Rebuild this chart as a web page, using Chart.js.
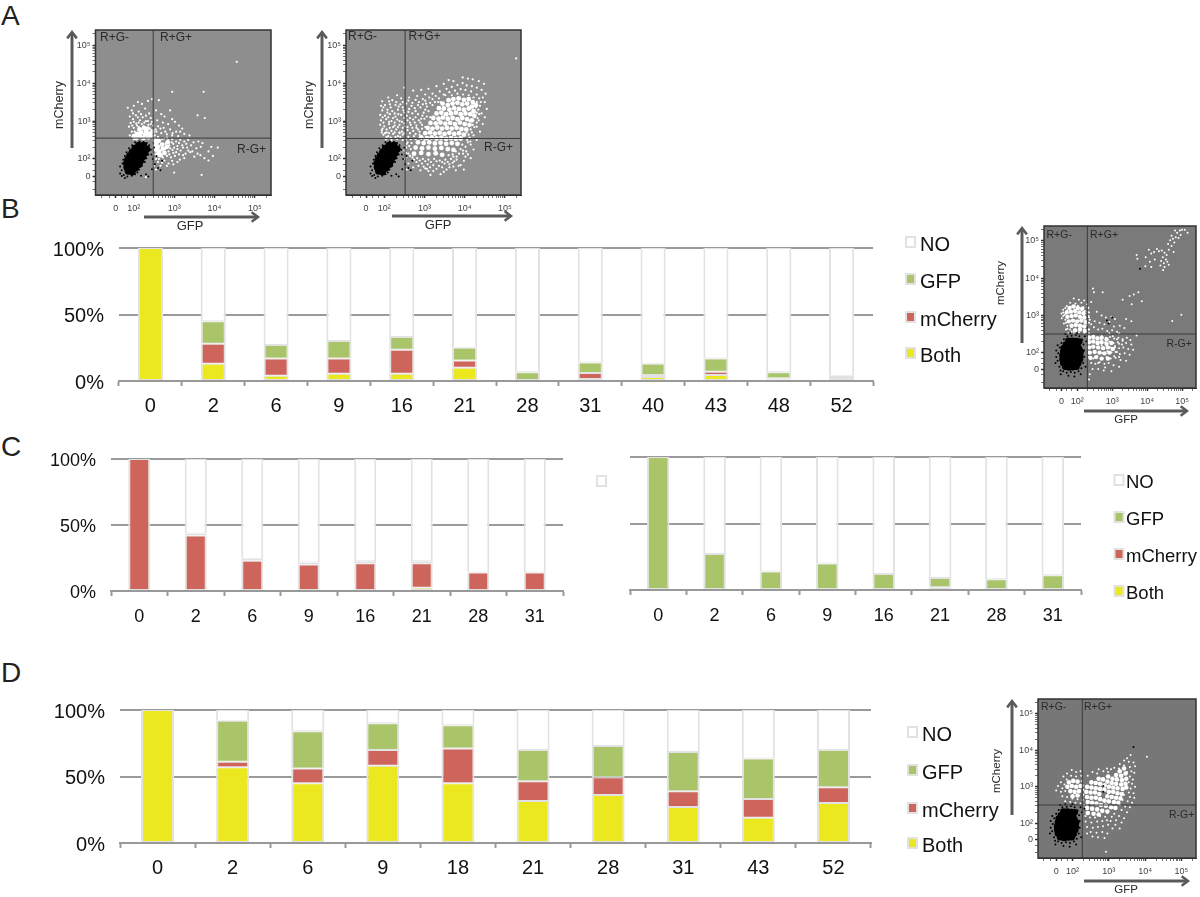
<!DOCTYPE html>
<html>
<head>
<meta charset="utf-8">
<title>Flow panels</title>
<script src="https://cdn.jsdelivr.net/npm/chart.js@4"></script>
<style>
  body { margin: 0; background: #fff; }
  #page { position: relative; width: 1200px; height: 897px; overflow: hidden; }
  canvas { position: absolute; left: 0; top: 0; }
  .letter { position: absolute; left: 1px; font: 28px "Liberation Sans", sans-serif; color: #222; line-height: 28px; }
</style>
</head>
<body>
<div id="page">
  <div class="letter" style="top:2px">A</div>
  <div class="letter" style="top:195px">B</div>
  <div class="letter" style="top:433px">C</div>
  <div class="letter" style="top:659px">D</div>
</div>
<script>
// Bar panels, values in percent
const bDays = ['0', '2', '6', '9', '16', '21', '28', '31', '40', '43', '48', '52'];
const bBoth = [100, 13, 4, 5.5, 5.5, 10, 0, 1.5, 3, 4.5, 1, 1.5];
const bCherry = [0, 15, 13, 11.5, 18, 5.5, 0, 4.5, 1.5, 2.5, 1, 1.5];
const bGfp = [0, 17, 10, 13, 9.5, 9.5, 6.5, 8, 8.5, 10, 4.5, 1];
const bNo = [0, 55, 73, 70, 67, 75, 93.5, 86, 87, 83, 93.5, 96];

const cDays = ['0', '2', '6', '9', '16', '21', '28', '31'];
const cLeftBoth = [0, 0, 0, 0, 0, 2.5, 0, 0];
const cLeftCherry = [100, 42, 23, 20, 21, 18.5, 14, 14];
const cLeftGfp = [0, 1.5, 1.5, 1.5, 1.5, 1.5, 0, 0];
const cLeftNo = [0, 56.5, 75.5, 78.5, 77.5, 77.5, 86, 86];

const cRightBoth = [0, 0, 0, 0, 0, 2, 0, 0];
const cRightCherry = [0, 0, 0, 0, 0, 0, 0, 0];
const cRightGfp = [100, 27, 14, 20, 12, 7, 8, 11];
const cRightNo = [0, 73, 86, 80, 88, 91, 92, 89];

const dDays = ['0', '2', '6', '9', '18', '21', '28', '31', '43', '52'];
const dBoth = [100, 57, 45, 58, 45, 31.5, 36, 27, 19, 30];
const dCherry = [0, 4, 11, 12, 26, 15, 13.5, 12, 14, 12];
const dGfp = [0, 31, 28, 20, 17.5, 23.5, 23.5, 29.5, 30.5, 28];
const dNo = [0, 8, 16, 10, 11.5, 30, 27, 31.5, 36.5, 30];

const legendOrder = ['NO', 'GFP', 'mCherry', 'Both'];

// Flow plots, all coordinates in decades (3 means 10^3), flat x,y lists
const axisMajor = [1.55, 2, 3, 4, 5];
const axisNames = ['0', '10²', '10³', '10⁴', '10⁵'];
const axisMinor = [1.2, 1.4, 1.7, 1.85, 2.3, 2.48, 2.6, 2.7, 2.78, 2.85, 2.9, 2.95, 3.3, 3.48, 3.6, 3.7, 3.78, 3.85, 3.9, 3.95, 4.3, 4.48, 4.6, 4.7, 4.78, 4.85, 4.9, 4.95, 5.3];

const negCoreWide = [1.86,1.68, 1.96,1.66, 1.83,1.78, 1.94,1.78, 2.04,1.76, 1.82,1.88, 1.93,1.88, 2.04,1.87, 2.13,1.86, 1.85,1.98, 1.96,1.98, 2.07,1.97, 2.17,1.96, 1.9,2.08, 2.01,2.08, 2.12,2.07, 2.22,2.06, 1.96,2.18, 2.07,2.18, 2.18,2.17, 2.27,2.16, 2.03,2.28, 2.14,2.28, 2.25,2.27, 2.32,2.26, 2.12,2.36, 2.24,2.36];
const negEdgeWide = [1.66,1.62, 1.7,1.55, 1.75,1.58, 1.84,1.54, 1.95,1.56, 2.03,1.6, 1.7,1.7, 1.66,1.8, 1.72,1.88, 1.74,1.98, 1.78,2.08, 1.82,2.18, 1.88,2.28, 1.96,2.36, 2.03,2.44, 2.14,2.46, 2.24,2.45, 2.32,2.42, 2.38,2.36, 2.42,2.24, 2.36,2.12, 2.31,2.02, 2.27,1.92, 2.2,1.82, 2.13,1.72, 2.09,1.64, 2.44,2.12, 2.47,2.0, 2.52,1.86, 2.6,1.76, 2.66,1.7, 2.45,1.73, 2.3,1.6, 2.18,1.56, 2.36,1.54, 1.78,1.5, 2.5,2.3, 2.56,2.08, 2.7,1.95];

const negCoreTall = [1.66,1.62, 1.77,1.6, 1.88,1.61, 1.98,1.62, 1.6,1.72, 1.71,1.71, 1.82,1.7, 1.93,1.72, 2.03,1.71, 1.58,1.82, 1.69,1.81, 1.8,1.82, 1.91,1.8, 2.02,1.81, 2.08,1.82, 1.58,1.92, 1.69,1.91, 1.8,1.92, 1.91,1.91, 2.02,1.92, 2.09,1.91, 1.6,2.02, 1.71,2.01, 1.82,2.02, 1.93,2.01, 2.04,2.02, 2.1,2.03, 1.62,2.12, 1.73,2.12, 1.84,2.11, 1.95,2.12, 2.05,2.11, 1.68,2.22, 1.79,2.21, 1.9,2.22, 2.01,2.21, 1.75,2.32, 1.86,2.32, 1.97,2.31, 2.06,2.3];
const negEdgeTall = [1.46,1.98, 1.44,1.78, 1.49,1.62, 1.52,1.52, 1.6,1.5, 1.7,1.46, 1.82,1.48, 1.93,1.46, 2.04,1.5, 2.12,1.58, 2.17,1.72, 2.2,1.88, 2.2,2.06, 2.18,2.22, 2.14,2.35, 2.06,2.44, 1.96,2.47, 1.84,2.45, 1.72,2.44, 1.62,2.36, 1.55,2.26, 1.5,2.14, 1.38,1.72, 1.4,1.88, 1.4,2.06, 1.53,1.42, 1.75,1.38, 1.92,1.36, 2.1,1.42, 2.24,1.62, 2.26,2.3, 1.44,2.2, 1.66,2.5, 1.8,2.52, 2.0,2.52, 2.22,2.44];

const a1Core = [2.0,2.6, 2.08,2.66, 2.06,2.55, 2.16,2.6, 2.18,2.7, 2.24,2.55, 2.28,2.64, 2.3,2.74, 2.36,2.57, 2.38,2.67, 2.44,2.6, 2.46,2.72, 2.14,2.78, 2.34,2.8, 2.25,2.82, 2.52,2.5, 2.56,2.42, 2.52,2.34, 2.6,2.32, 2.62,2.48, 2.55,2.25, 2.63,2.2, 2.7,2.38, 2.72,2.27, 2.58,2.12, 2.66,2.1, 2.76,2.16, 2.82,2.32, 2.84,2.44];
const a1White = [2.1,3.5, 2.2,3.45, 2.35,3.53, 2.45,3.58, 2.0,3.4, 1.85,3.35, 2.28,3.33, 1.95,3.28, 2.12,3.25, 2.38,3.2, 2.05,3.15, 1.9,3.12, 2.22,3.1, 2.42,3.08, 1.98,3.05, 2.15,3.02, 2.3,3.0, 2.45,2.98, 1.92,2.95, 2.06,2.93, 2.2,2.92, 2.36,2.9, 2.48,2.88, 1.88,2.85, 2.0,2.82, 2.12,2.84, 2.28,2.82, 2.4,2.8, 1.95,2.72, 1.9,2.62, 2.0,2.52, 2.02,2.72, 2.18,2.78, 2.32,2.76, 2.44,2.76,
  2.62,3.55, 2.55,3.28, 2.68,3.18, 2.76,3.12, 2.9,3.28, 2.95,3.05, 2.58,3.02, 2.72,2.96, 2.85,2.92, 3.02,2.98, 3.12,2.88, 2.6,2.86, 2.74,2.82, 2.9,2.78, 3.05,2.72, 3.2,2.8, 2.56,2.72, 2.68,2.68, 2.82,2.65, 2.95,2.62, 3.1,2.6, 3.25,2.66, 3.38,2.62,
  2.75,2.54, 2.85,2.5, 2.95,2.52, 3.05,2.46, 3.15,2.5, 3.25,2.46, 3.35,2.5, 3.48,2.44, 3.6,2.46, 3.7,2.42, 2.78,2.4, 2.88,2.36, 2.98,2.4, 3.08,2.34, 3.2,2.36, 3.32,2.3, 3.42,2.36, 3.55,2.28, 3.66,2.32, 2.78,2.26, 2.86,2.2, 2.96,2.24, 3.05,2.18, 3.16,2.22, 3.28,2.14, 3.4,2.18, 2.82,2.08, 2.92,2.04, 3.02,2.08, 3.14,1.98, 3.25,2.02, 2.76,1.96, 2.86,1.88, 2.98,1.86, 2.6,1.92, 2.66,1.82,
  2.95,3.77, 3.73,3.77, 3.58,3.15, 3.76,3.08, 4.55,4.56, 3.68,1.58, 3.0,1.64, 4.08,2.3, 3.92,2.32, 3.96,2.08, 3.85,1.96, 3.75,2.02, 3.65,2.1, 3.5,2.06, 3.85,2.2, 2.3,1.52, 2.55,1.72,
  2.52,2.62, 2.6,2.58, 2.7,2.52, 2.82,2.56, 2.94,2.44, 3.0,2.3, 3.12,2.42, 3.22,2.3, 3.3,2.4, 2.9,2.28, 3.08,2.26, 2.98,2.16, 3.12,2.12, 3.22,2.1, 2.88,2.12, 2.72,2.04, 2.95,1.95, 3.08,1.92, 2.7,1.9, 2.82,1.82, 2.5,1.82, 2.55,2.0, 2.62,2.0, 2.48,2.12, 2.96,2.68, 3.15,2.72, 2.78,2.72, 2.66,2.8, 2.54,2.78, 1.98,3.2, 2.18,3.18, 2.3,3.14, 2.1,3.1, 2.0,2.98, 2.12,2.96, 2.26,2.96, 2.35,3.0, 1.96,2.88, 2.24,2.86, 2.08,2.88, 2.42,2.92, 3.35,2.22, 3.45,2.2, 3.58,2.14];

const a2Core = [3.6,3.55, 3.72,3.58, 3.85,3.6, 3.98,3.56, 4.1,3.58, 4.2,3.5, 3.45,3.46, 3.58,3.42, 3.7,3.46, 3.82,3.48, 3.94,3.44, 4.06,3.46, 4.18,3.38, 4.28,3.42, 3.36,3.34, 3.48,3.33, 3.62,3.3, 3.74,3.34, 3.86,3.32, 3.98,3.3, 4.1,3.33, 4.22,3.26, 3.3,3.2, 3.42,3.22, 3.54,3.18, 3.66,3.2, 3.78,3.22, 3.9,3.18, 4.02,3.2, 4.14,3.18, 4.24,3.14, 3.22,3.08, 3.35,3.06, 3.46,3.09, 3.58,3.06, 3.7,3.08, 3.82,3.05, 3.94,3.08, 4.06,3.05, 4.18,3.02, 3.15,2.95, 3.28,2.94, 3.4,2.96, 3.52,2.93, 3.64,2.95, 3.76,2.92, 3.88,2.96, 4.0,2.92, 4.12,2.9, 3.08,2.82, 3.2,2.8, 3.32,2.83, 3.44,2.8, 3.56,2.82, 3.68,2.8, 3.8,2.82, 3.92,2.79, 4.04,2.78, 3.02,2.68, 3.14,2.7, 3.26,2.67, 3.38,2.69, 3.5,2.66, 3.62,2.69, 3.74,2.66, 3.86,2.68, 3.98,2.64, 2.92,2.57, 3.06,2.55, 3.18,2.57, 3.3,2.54, 3.42,2.56, 3.54,2.53, 3.66,2.55, 3.78,2.53, 3.9,2.54, 2.84,2.44, 2.98,2.42, 3.12,2.44, 3.26,2.41, 3.4,2.43, 3.54,2.4, 3.68,2.42, 3.82,2.4, 2.78,2.3, 2.94,2.28, 3.1,2.3, 3.26,2.27, 3.42,2.29, 3.58,2.26, 3.72,2.24, 2.74,2.14, 2.92,2.16, 3.1,2.13, 3.28,2.15, 3.44,2.11];
const a2White = [3.95,4.15, 4.08,4.12, 4.2,4.1, 4.35,4.05, 4.48,3.98, 3.72,4.05, 3.6,4.08, 3.48,3.98, 3.3,3.92, 3.1,3.85, 2.92,3.82, 2.72,3.8, 2.5,3.88, 2.32,3.68, 2.1,3.62, 1.95,3.52, 2.2,3.55, 2.42,3.6, 2.62,3.62, 2.82,3.66, 3.02,3.7, 3.2,3.72, 3.38,3.78, 3.55,3.85, 3.68,3.9, 3.82,3.95, 3.95,4.0, 4.05,3.94, 4.18,3.92, 4.3,3.88, 4.42,3.82, 4.52,3.72, 4.45,3.62, 4.5,3.5, 4.38,3.4, 4.55,3.32, 4.42,3.2, 4.5,3.1, 4.35,3.02, 4.45,2.92, 4.3,2.85, 4.38,2.72, 4.22,2.62, 4.3,2.5, 4.15,2.38, 4.22,2.25, 4.08,2.12, 4.15,2.02, 3.98,1.95, 3.85,1.82, 3.98,1.72, 3.72,1.8, 3.55,1.72, 3.4,1.6, 3.22,1.68, 3.15,1.58, 3.02,1.75, 2.85,1.82, 2.72,1.78, 2.6,1.88, 2.5,2.0, 2.56,1.72,
  1.92,3.4, 2.02,3.42, 2.14,3.44, 2.28,3.42, 2.4,3.44, 2.55,3.46, 2.7,3.48, 2.86,3.5, 3.02,3.54, 3.2,3.58, 3.36,3.6, 1.95,3.28, 2.08,3.3, 2.2,3.26, 2.34,3.3, 2.48,3.28, 2.62,3.32, 2.76,3.34, 2.9,3.36, 3.06,3.38, 3.2,3.42, 1.9,3.16, 2.02,3.14, 2.14,3.18, 2.28,3.12, 2.42,3.16, 2.56,3.14, 2.7,3.2, 2.84,3.18, 2.98,3.22, 3.1,3.26, 1.92,3.02, 2.05,3.05, 2.18,3.0, 2.32,3.04, 2.44,2.98, 2.58,3.02, 2.72,3.04, 2.86,3.02, 3.0,3.06,
  1.9,2.9, 2.0,2.86, 2.12,2.92, 2.26,2.88, 2.38,2.9, 2.52,2.86, 2.66,2.9, 2.8,2.88, 2.94,2.9, 1.94,2.76, 2.06,2.78, 2.18,2.74, 2.3,2.78, 2.44,2.72, 2.58,2.76, 2.72,2.74, 2.84,2.78, 1.98,2.64, 2.1,2.6, 2.22,2.66, 2.34,2.6, 2.46,2.64, 2.6,2.58, 2.74,2.6, 2.04,2.52, 2.18,2.5, 2.32,2.52, 2.46,2.5, 2.58,2.44, 2.52,2.34, 2.62,2.34, 2.5,2.22, 2.6,2.14, 2.56,2.06, 2.7,2.04, 2.82,2.02, 2.96,2.0, 3.1,1.98, 3.24,2.0, 3.38,1.96, 3.52,1.98, 3.66,2.0, 3.8,2.06, 2.8,1.92, 2.94,1.88, 3.08,1.86, 3.22,1.84, 3.36,1.82, 3.5,1.88, 3.62,1.86, 3.74,1.94, 3.06,1.74, 3.3,1.74, 3.62,1.78,
  3.7,2.12, 3.78,2.2, 3.9,2.26, 4.02,2.32, 3.96,2.14, 4.08,2.44, 4.12,2.56, 4.05,2.7, 4.15,2.78, 4.2,2.9, 4.12,3.0, 4.25,3.1, 4.3,3.22, 4.28,3.36, 4.3,3.5, 4.22,3.62, 4.1,3.68, 3.96,3.7, 3.82,3.72, 3.68,3.68, 3.52,3.68, 3.4,3.5, 3.02,3.3, 3.14,3.1, 2.95,3.14, 5.28,4.65, 2.38,2.68, 2.88,2.72, 3.0,2.5, 3.1,2.32,
  1.98,3.36, 2.08,3.22, 2.16,3.36, 2.26,3.2, 2.36,3.38, 2.46,3.36, 2.5,3.22, 2.6,3.24, 2.68,3.4, 2.78,3.26, 2.84,3.42, 2.96,3.44, 3.04,3.46, 3.14,3.48, 3.26,3.5, 3.34,3.5, 1.96,3.1, 2.1,3.1, 2.22,3.08, 2.35,3.18, 2.5,3.08, 2.64,3.08, 2.78,3.1, 2.92,3.06, 3.06,3.12, 1.98,2.96, 2.12,2.98, 2.26,2.96, 2.38,3.0, 2.5,2.94, 2.64,2.96, 2.76,2.96, 2.9,2.96, 3.02,2.84, 1.96,2.8, 2.06,2.7, 2.14,2.82, 2.22,2.84, 2.34,2.84, 2.46,2.82, 2.58,2.84, 2.7,2.82, 2.8,2.82, 2.94,2.8, 1.94,2.7, 2.02,2.68, 2.12,2.68, 2.26,2.7, 2.38,2.7, 2.5,2.68, 2.64,2.68, 2.78,2.66, 2.88,2.64, 2.06,2.58, 2.16,2.56, 2.28,2.58, 2.4,2.58, 2.54,2.52, 2.66,2.52, 2.78,2.52, 2.56,2.4, 2.68,2.42, 2.55,2.3, 2.66,2.26, 2.54,2.16, 2.64,2.08, 2.74,1.98, 2.88,1.96, 3.02,1.94, 3.16,1.92, 3.3,1.94, 3.44,1.92, 3.58,1.92, 3.7,1.9, 3.8,1.98, 3.6,2.1, 3.72,2.06, 3.86,2.14, 3.96,2.22, 4.04,2.2, 3.94,2.38, 4.06,2.5, 4.14,2.46, 4.1,2.64, 4.18,2.7, 4.24,2.84, 4.3,2.96, 4.32,3.08, 4.36,3.18, 4.34,3.3, 4.4,3.5, 4.36,3.6, 4.3,3.7, 4.16,3.78, 4.02,3.82, 3.9,3.84, 3.76,3.8, 3.62,3.76, 3.48,3.7, 3.28,3.66, 3.12,3.62, 2.96,3.58, 2.78,3.56, 2.6,3.54, 2.46,3.5, 2.3,3.5, 2.12,3.52, 2.9,1.7, 3.1,1.68, 3.48,1.66, 3.78,1.7, 2.98,1.8, 3.14,1.78, 3.44,1.78, 3.9,1.84, 4.02,2.06];

const bCore = [1.78,3.2, 1.9,3.24, 2.02,3.2, 2.14,3.18, 1.7,3.08, 1.82,3.1, 1.94,3.12, 2.06,3.08, 2.18,3.06, 1.72,2.96, 1.84,2.98, 1.96,3.0, 2.08,2.96, 2.2,2.94, 1.76,2.84, 1.88,2.86, 2.0,2.84, 2.12,2.86, 2.24,2.82, 1.84,2.72, 1.96,2.74, 2.08,2.72, 2.2,2.7, 1.94,2.6, 2.08,2.62, 2.22,2.58,
  2.34,2.4, 2.46,2.42, 2.58,2.38, 2.7,2.4, 2.84,2.36, 2.34,2.28, 2.46,2.3, 2.58,2.26, 2.7,2.28, 2.84,2.24, 2.98,2.26, 2.34,2.14, 2.46,2.16, 2.6,2.14, 2.74,2.12, 2.88,2.14, 3.02,2.1, 2.36,2.0, 2.5,2.02, 2.64,2.0, 2.78,1.98, 2.92,2.0, 2.38,1.86, 2.54,1.88, 2.7,1.84, 2.88,1.84];
const bWhite = [1.9,3.45, 2.05,3.42, 2.2,3.4, 1.8,3.34, 1.95,3.32, 2.12,3.34, 2.28,3.3, 1.7,3.25, 1.85,3.24, 2.02,3.26, 2.18,3.22, 2.32,3.2, 1.6,3.15, 1.72,3.14, 2.22,3.12, 2.34,3.08, 1.55,3.05, 1.64,3.02, 2.2,3.0, 2.32,2.98, 1.56,2.92, 1.66,2.88, 2.24,2.86, 2.36,2.88, 1.62,2.78, 1.72,2.72, 2.28,2.74, 2.4,2.76, 1.68,2.62, 1.8,2.62, 1.92,2.6, 2.05,2.62, 2.2,2.6, 2.32,2.62, 1.75,2.52, 1.9,2.52, 2.05,2.54, 2.2,2.52, 2.34,2.52,
  2.45,3.72, 2.48,3.62, 2.73,3.62, 2.4,3.36, 2.56,3.1, 2.7,3.0, 2.82,2.94, 2.98,2.96, 3.08,2.9, 2.5,2.84, 2.64,2.8, 2.78,2.76, 2.92,2.82, 3.05,2.7, 3.22,2.72, 3.35,2.66, 2.48,2.68, 2.6,2.62, 2.72,2.64, 2.86,2.58, 3.0,2.6, 3.14,2.56, 3.4,2.9, 3.55,2.84,
  2.34,2.44, 2.46,2.46, 2.58,2.42, 2.7,2.44, 2.82,2.4, 2.94,2.42, 3.06,2.38, 3.18,2.4, 3.3,2.36, 3.42,2.4, 3.52,2.34, 2.36,2.3, 2.66,2.3, 2.8,2.28, 2.92,2.3, 3.04,2.26, 3.16,2.28, 3.28,2.22, 3.4,2.26, 3.55,2.22, 2.36,2.16, 2.7,2.2, 2.84,2.18, 2.96,2.14, 3.08,2.18, 3.2,2.12, 3.32,2.14, 3.46,2.1, 3.6,2.08, 2.36,2.02, 2.72,1.98, 2.86,2.04, 2.98,2.0, 3.1,2.02, 3.22,1.96, 3.36,1.98, 3.5,1.94, 2.34,1.88, 2.46,1.84, 2.58,1.9, 2.7,1.86, 2.84,1.88, 2.96,1.84, 3.1,1.86, 3.24,1.8, 3.4,1.78, 2.4,1.72, 2.52,1.7, 2.64,1.74, 2.78,1.7, 2.9,1.72, 3.04,1.66, 3.2,1.62, 2.44,1.56, 2.6,1.56, 2.76,1.52, 2.98,1.5, 2.36,1.42, 2.34,1.28, 3.7,2.46,
  3.7,4.62, 3.72,4.52, 3.96,4.56, 4.05,4.76, 4.2,4.7, 4.12,4.66, 4.28,4.78, 4.34,4.72, 4.42,4.74, 4.5,4.68, 4.56,4.62, 4.45,4.56, 4.54,4.5, 4.4,4.46, 4.48,4.4, 4.58,4.44, 4.38,4.34, 4.5,4.3, 4.46,4.22, 4.22,4.5, 4.08,4.44, 3.95,4.32, 4.12,4.3, 4.62,4.36, 4.7,4.86, 4.78,4.96, 4.6,4.92, 4.66,5.02, 4.74,5.06, 4.82,5.1, 4.7,5.14, 4.86,5.22, 4.94,5.28, 4.8,5.28, 5.0,5.3, 5.08,5.3, 5.16,5.22, 4.9,5.08, 4.96,5.16, 4.62,4.76, 4.76,4.7,
  3.75,3.62, 3.85,3.38, 3.5,3.52, 3.62,3.56, 3.56,3.3, 3.3,3.42, 4.72,2.85, 4.98,3.02,
  1.66,3.2, 1.6,3.08, 1.6,2.98, 1.68,2.8, 1.72,2.64, 1.84,2.56, 2.3,3.22, 2.3,3.1, 2.34,2.95, 2.34,2.8, 2.34,2.62, 3.02,2.44, 3.14,2.36, 3.08,2.14, 3.2,2.24, 3.14,2.02, 3.06,1.9, 3.2,1.88, 3.3,2.32, 2.92,2.52, 3.2,2.52, 2.6,1.72, 2.8,1.6];
const bDark = [3.8,4.25, 3.0,2.94, 2.85,2.86, 2.9,2.78];

const dCore = [3.3,3.42, 3.42,3.5, 3.2,3.32, 3.34,3.3, 3.46,3.36, 2.98,3.28, 3.1,3.22, 3.22,3.2, 3.36,3.18, 3.48,3.22, 2.72,3.22, 2.84,3.2, 2.96,3.14, 3.08,3.1, 3.2,3.08, 3.34,3.06, 3.46,3.08, 2.52,3.12, 2.64,3.1, 2.76,3.08, 2.88,3.04, 3.0,3.0, 3.12,2.98, 3.24,2.96, 3.38,2.94, 3.48,2.98, 2.4,3.0, 2.52,2.98, 2.64,2.96, 2.76,2.94, 2.88,2.92, 3.0,2.86, 3.12,2.86, 3.24,2.82, 3.36,2.8, 2.38,2.86, 2.5,2.84, 2.62,2.84, 2.74,2.8, 2.96,2.74, 3.08,2.72, 3.2,2.7, 3.32,2.68, 2.4,2.72, 2.52,2.7, 2.64,2.7, 2.76,2.66, 2.88,2.62, 3.0,2.6, 3.14,2.58, 3.26,2.56, 2.42,2.58, 2.54,2.56, 2.66,2.54, 2.78,2.5, 2.92,2.48, 3.06,2.44, 3.18,2.42, 2.4,2.42, 2.54,2.4, 2.68,2.38, 2.82,2.34, 2.96,2.32, 2.42,2.28, 2.58,2.26, 2.72,2.24,
  1.9,3.12, 2.02,3.16, 2.14,3.14, 1.86,3.0, 1.98,3.02, 2.1,3.0, 2.22,3.02, 1.94,2.88, 2.06,2.86, 2.18,2.88, 2.0,2.74, 2.14,2.76];
const dWhite = [3.6,3.87, 4.05,3.82, 3.5,3.78, 3.42,3.72, 3.55,3.68, 3.68,3.66, 3.3,3.62, 3.42,3.58, 3.58,3.54, 3.72,3.56, 3.15,3.52, 3.28,3.5, 3.62,3.42, 3.7,3.38, 2.95,3.5, 3.06,3.48, 3.5,3.4, 2.72,3.48, 2.85,3.42, 2.98,3.4, 3.58,3.28, 3.66,3.2, 2.55,3.4, 2.68,3.36, 2.42,3.3, 3.55,3.12, 3.64,3.08, 3.5,3.0, 3.6,2.95, 3.72,3.0, 3.55,2.84, 3.68,2.82, 3.42,2.78, 3.58,2.72, 3.7,2.7, 3.38,2.64, 3.52,2.6, 3.64,2.56, 3.3,2.5, 3.45,2.46, 3.58,2.44, 3.2,2.42, 3.35,2.36, 3.5,2.3, 3.15,2.26, 3.28,2.2, 3.42,2.14, 3.08,2.18, 3.2,2.08, 3.35,2.02, 3.05,2.06, 3.18,1.96, 3.3,1.86, 2.98,1.96, 3.1,1.86, 2.9,2.18, 2.76,2.2, 2.62,2.16, 2.48,2.16, 2.36,2.2, 2.36,2.05, 2.52,2.02, 2.68,2.05, 2.82,2.06, 2.95,2.08, 2.4,1.9, 2.56,1.88, 2.7,1.9, 2.84,1.92, 2.5,1.76, 2.66,1.74, 2.82,1.76, 2.96,1.72, 2.7,1.62, 2.88,1.6, 2.55,1.64, 2.4,1.72, 2.92,1.22,
  1.98,3.46, 2.1,3.4, 2.22,3.42, 1.85,3.36, 1.96,3.3, 2.1,3.28, 2.24,3.3, 1.75,3.28, 1.84,3.2, 2.25,3.16, 1.68,3.12, 1.78,3.06, 2.28,3.04, 1.6,3.02, 1.72,2.96, 2.3,2.92, 1.55,2.9, 1.68,2.86, 1.8,2.88, 2.3,2.78, 1.72,2.74, 1.85,2.72, 2.0,2.68, 2.14,2.66, 2.28,2.64, 1.8,2.6, 1.94,2.58, 2.08,2.56, 2.22,2.54, 2.32,2.5, 2.4,2.5];
const dDark = [3.68,4.09, 2.85,3.02, 2.85,2.86, 2.33,2.4];

// Drawn over everything in a panel: backing, frame, arrows, free text
const panelParts = {
  id: 'panelParts',
  beforeDatasetsDraw(chart, args, opts) {
    if (!opts.back) return;
    const a = chart.chartArea, c = chart.ctx;
    c.save();
    c.fillStyle = opts.back;
    c.fillRect(a.left, a.top, a.width, a.height);
    c.restore();
  },
  afterDatasetsDraw(chart, args, opts) {
    const a = chart.chartArea, c = chart.ctx;
    c.save();
    if (opts.back) {
      c.strokeStyle = '#333';
      c.lineWidth = 1.5;
      c.strokeRect(a.left, a.top, a.width, a.height);
    }
    (opts.arrows || []).forEach(([x1, y1, x2, y2]) => {
      const ang = Math.atan2(y2 - y1, x2 - x1);
      c.strokeStyle = '#5a5a5a';
      c.lineWidth = 3;
      c.beginPath();
      c.moveTo(x1, y1);
      c.lineTo(x2 - 2 * Math.cos(ang), y2 - 2 * Math.sin(ang));
      c.stroke();
      c.lineWidth = 2.5;
      c.beginPath();
      c.moveTo(x2 - 8 * Math.cos(ang - 0.65), y2 - 8 * Math.sin(ang - 0.65));
      c.lineTo(x2, y2);
      c.lineTo(x2 - 8 * Math.cos(ang + 0.65), y2 - 8 * Math.sin(ang + 0.65));
      c.stroke();
    });
    (opts.texts || []).forEach(t => {
      c.save();
      c.translate(t.x, t.y);
      if (t.up) c.rotate(-Math.PI / 2);
      c.fillStyle = '#2a2a2a';
      c.font = t.size + 'px "Liberation Sans", sans-serif';
      c.textAlign = t.up || t.mid ? 'center' : 'left';
      c.textBaseline = 'middle';
      c.fillText(t.text, 0, 0);
      c.restore();
    });
    // legend rows read their colours from the datasets
    if (opts.legend) {
      const lg = opts.legend;
      lg.names.forEach((name, i) => {
        const ds = chart.data.datasets.find(d => d.label === name);
        const y = lg.rows[i];
        c.fillStyle = ds.backgroundColor;
        c.strokeStyle = '#e2e2e2';
        c.lineWidth = 2;
        c.fillRect(lg.box, y - 8, 9, 10);
        c.strokeRect(lg.box, y - 8, 9, 10);
        if (lg.hideText) return;
        c.fillStyle = '#111';
        c.font = lg.size + 'px "Liberation Sans", sans-serif';
        c.textBaseline = 'middle';
        c.textAlign = 'left';
        c.fillText(name, lg.text, y);
      });
    }
    c.restore();
  }
};
Chart.register(panelParts);

function addCanvas() {
  const cv = document.createElement('canvas');
  cv.width = 1200;
  cv.height = 897;
  document.getElementById('page').appendChild(cv);
  return cv;
}

function barPanel(o) {
  const seg = (label, data, color) => ({
    label, data,
    backgroundColor: color,
    borderColor: '#e2e2e2',
    borderWidth: { left: 2, right: 2, top: 1, bottom: 1 },
    borderSkipped: false,
    barPercentage: o.barShare,
    categoryPercentage: 1
  });
  const sideW = 80, lowH = 40;
  new Chart(addCanvas(), {
    type: 'bar',
    data: {
      labels: o.days,
      datasets: [
        seg('Both', o.both, '#ebe81f'),
        seg('mCherry', o.cherry, '#cd655c'),
        seg('GFP', o.gfp, '#a9c469'),
        seg('NO', o.no, '#ffffff')
      ]
    },
    options: {
      responsive: false,
      animation: false,
      layout: { padding: { left: o.l - sideW, top: o.t, right: 1200 - o.r, bottom: 897 - o.b - lowH } },
      scales: {
        x: {
          stacked: true,
          afterFit: s => { s.height = lowH; },
          border: { color: '#999', width: 2 },
          grid: { offset: true, drawOnChartArea: false, tickLength: 5, tickColor: '#999', tickWidth: 2 },
          ticks: { color: '#111', padding: o.labelGap, maxRotation: 0, font: { family: 'Liberation Sans', size: o.font } }
        },
        y: {
          stacked: true,
          min: 0,
          max: 100,
          afterFit: s => { s.width = sideW; },
          border: { display: false },
          grid: { color: '#9a9a9a', lineWidth: 2, drawTicks: false },
          ticks: { display: !o.noPercent, stepSize: 50, padding: 15, labelOffset: 2, color: '#111', callback: v => v + '%', font: { family: 'Liberation Sans', size: o.font } }
        }
      },
      plugins: { legend: { display: false }, tooltip: { enabled: false }, panelParts: { legend: o.legend } }
    }
  });
}

function toPoints(flat) {
  const pts = [];
  for (let i = 0; i < flat.length; i += 2) pts.push({ x: flat[i], y: flat[i + 1] });
  return pts;
}

function flowPanel(o) {
  const sideW = 30, lowH = 30, low = 1.05, high = 5.4;
  const dots = (data, color, r) => ({ data: toPoints(data), backgroundColor: color, pointRadius: r, pointBorderWidth: 0 });
  const gate = pts => ({ data: pts, showLine: true, borderColor: '#3a3a3a', borderWidth: 1, pointRadius: 0 });
  const axis = horizontal => ({
    type: 'linear',
    min: low,
    max: high,
    afterBuildTicks: s => { s.ticks = axisMajor.concat(axisMinor).map(v => ({ value: v })); },
    afterFit: s => { if (horizontal) s.height = lowH; else s.width = sideW; },
    border: { color: '#333' },
    grid: {
      drawOnChartArea: false,
      tickLength: 3,
      tickColor: '#333',
      tickWidth: c => (axisMajor.includes(c.tick.value) ? 1.5 : 0.7)
    },
    ticks: {
      autoSkip: false,
      maxRotation: 0,
      padding: horizontal ? 5 : 2,
      color: '#444',
      font: { family: 'Liberation Sans', size: 9 },
      callback: v => (axisMajor.includes(v) ? axisNames[axisMajor.indexOf(v)] : '')
    }
  });
  new Chart(addCanvas(), {
    type: 'scatter',
    data: {
      datasets: [
        gate([{ x: o.gx, y: low }, { x: o.gx, y: high }]),
        gate([{ x: low, y: o.gy }, { x: high, y: o.gy }]),
        dots(o.dark || [], '#000', 1),
        dots(o.negEdge, '#000', 1),
        dots(o.negCore, '#000', o.negSize),
        dots(o.core, '#fff', o.coreSize),
        dots(o.white, '#fff', o.dotSize)
      ]
    },
    options: {
      responsive: false,
      animation: false,
      layout: { padding: { left: o.l - sideW, top: o.t, right: 1200 - o.r, bottom: 897 - o.b - lowH } },
      scales: { x: axis(true), y: axis(false) },
      plugins: {
        legend: { display: false },
        tooltip: { enabled: false },
        panelParts: { back: o.back, arrows: o.arrows, texts: o.texts }
      }
    }
  });
}

flowPanel({
  l: 95.5, t: 30, r: 271, b: 195, gx: 2.48, gy: 2.55, back: '#8e8e8e', negSize: 3.6, coreSize: 2.4, dotSize: 1.1,
  negCore: negCoreWide, negEdge: negEdgeWide, core: a1Core, white: a1White,
  arrows: [[72, 148, 72, 32], [144, 217, 258, 217]],
  texts: [
    { text: 'R+G-', x: 100, y: 38, size: 12 }, { text: 'R+G+', x: 160, y: 38, size: 12 }, { text: 'R-G+', x: 237, y: 150, size: 12 },
    { text: 'mCherry', x: 60, y: 105, size: 12.5, up: true }, { text: 'GFP', x: 190, y: 226, size: 13, mid: true }
  ]
});
flowPanel({
  l: 346, t: 30, r: 521, b: 195, gx: 2.52, gy: 2.54, back: '#8e8e8e', negSize: 3.6, coreSize: 2.4, dotSize: 1.1,
  negCore: negCoreWide, negEdge: negEdgeWide, core: a2Core, white: a2White,
  arrows: [[322, 148, 322, 32], [392, 216, 511, 216]],
  texts: [
    { text: 'R+G-', x: 348, y: 37, size: 12 }, { text: 'R+G+', x: 408.5, y: 37, size: 12 }, { text: 'R-G+', x: 484, y: 148, size: 12 },
    { text: 'mCherry', x: 310, y: 105, size: 12.5, up: true }, { text: 'GFP', x: 438, y: 225, size: 13, mid: true }
  ]
});
flowPanel({
  l: 1044, t: 226, r: 1198.5, b: 388, gx: 2.29, gy: 2.5, back: '#7a7a7a', negSize: 3.3, coreSize: 2.2, dotSize: 1,
  negCore: negCoreTall, negEdge: negEdgeTall, core: bCore, white: bWhite, dark: bDark,
  arrows: [[1022, 343, 1022, 228], [1084, 411, 1187, 411]],
  texts: [
    { text: 'R+G-', x: 1046.5, y: 235, size: 10.5 }, { text: 'R+G+', x: 1090, y: 235, size: 10.5 }, { text: 'R-G+', x: 1166.5, y: 344, size: 10.5 },
    { text: 'mCherry', x: 1001, y: 283, size: 11.5, up: true }, { text: 'GFP', x: 1126, y: 420, size: 11.5, mid: true }
  ]
});
flowPanel({
  l: 1038, t: 699, r: 1197, b: 858, gx: 2.27, gy: 2.5, back: '#777', negSize: 3.3, coreSize: 2.3, dotSize: 1,
  negCore: negCoreTall, negEdge: negEdgeTall, core: dCore, white: dWhite, dark: dDark,
  arrows: [[1012, 815, 1012, 701], [1084, 881, 1188, 881]],
  texts: [
    { text: 'R+G-', x: 1041, y: 707, size: 10.5 }, { text: 'R+G+', x: 1084, y: 707, size: 10.5 }, { text: 'R-G+', x: 1169, y: 815, size: 10.5 },
    { text: 'mCherry', x: 997, y: 771, size: 11.5, up: true }, { text: 'GFP', x: 1126, y: 890, size: 11.5, mid: true }
  ]
});

barPanel({
  l: 119, t: 248, r: 873, b: 381, days: bDays, both: bBoth, cherry: bCherry, gfp: bGfp, no: bNo,
  barShare: 0.4, font: 20, labelGap: 8,
  legend: { names: legendOrder, rows: [245, 282, 320, 356], box: 906, text: 920, size: 20 }
});
barPanel({
  l: 111, t: 459, r: 563, b: 591, days: cDays, both: cLeftBoth, cherry: cLeftCherry, gfp: cLeftGfp, no: cLeftNo,
  barShare: 0.39, font: 18, labelGap: 10,
  legend: { names: ['NO'], rows: [484], box: 597, text: 0, size: 18, hideText: true }
});
barPanel({
  l: 630, t: 457, r: 1081, b: 590, days: cDays, both: cRightBoth, cherry: cRightCherry, gfp: cRightGfp, no: cRightNo,
  barShare: 0.4, font: 18, labelGap: 10, noPercent: true,
  legend: { names: legendOrder, rows: [483, 520, 557, 594], box: 1114.5, text: 1126, size: 18.5 }
});
barPanel({
  l: 120, t: 710, r: 871, b: 843, days: dDays, both: dBoth, cherry: dCherry, gfp: dGfp, no: dNo,
  barShare: 0.44, font: 20, labelGap: 8,
  legend: { names: legendOrder, rows: [735, 773, 811, 846], box: 908, text: 922, size: 20 }
});
</script>
</body>
</html>
